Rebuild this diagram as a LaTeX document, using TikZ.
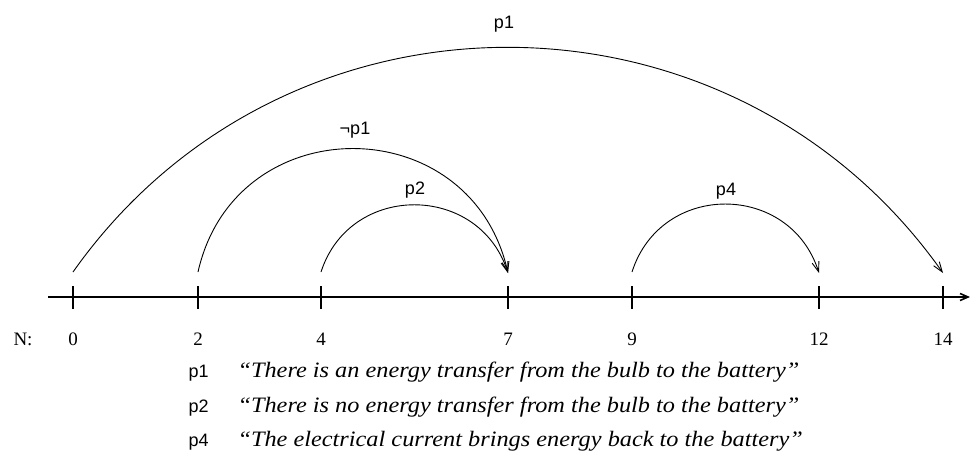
\documentclass[tikz,border=0pt]{standalone}
\usepackage{fontspec}
\usepackage{graphicx}
\setmainfont{Liberation Serif}
\setsansfont{Liberation Sans}
\usetikzlibrary{arrows.meta}
\newcommand{\legstretch}[1]{\scalebox{1.105}[1]{#1}}
\begin{document}
\begin{tikzpicture}[x=1pt,y=-1pt,
  axisline/.style={line width=1.6pt,-{Straight Barb[length=8pt,width=7pt]}},
  ticksty/.style={line width=1.6pt},
  arcline/.style={line width=0.9pt,-{Straight Barb[length=10pt,width=7pt]}},
  num/.style={font=\fontsize{19}{19}\selectfont,anchor=base},
  lab/.style={font=\sffamily\fontsize{18}{18}\selectfont,anchor=base},
  legtxt/.style={font=\itshape\fontsize{22}{22}\selectfont,anchor=base west},
]
\useasboundingbox (0,0) rectangle (970,455);
% axis
\coordinate (ax0) at (48,297);
\coordinate (ax1) at (970,297);
\draw[axisline] (ax0) -- (ax1);
\foreach \n/\x in {0/73,2/198,4/321,7/508,9/632,12/819,14/943}{
  \coordinate (tt\n) at (\x,286);
  \coordinate (tb\n) at (\x,309);
  \draw[ticksty] (tt\n) -- (tb\n);
  \node[num] (n\n) at (\x,345) {\n};
}
\node[num] (nN) at (23,345) {N:};
% arc end points
\coordinate (s0) at (73,272);
\coordinate (s2) at (198,272);
\coordinate (s4) at (321,272);
\coordinate (s9) at (632,272);
\coordinate (e7) at (508,273);
\coordinate (e12) at (819,273);
\coordinate (e14) at (943,273);
% arcs
\draw[arcline] (s0) .. controls +(212,-300) and +(-212,-300) .. (e14);
\draw[arcline] (s2) .. controls +(37,-165) and +(-37,-165) .. (e7);
\draw[arcline] (s4) .. controls +(29,-90) and +(-29,-90) .. (e7);
\draw[arcline] (s9) .. controls +(29,-91) and +(-29,-91) .. (e12);
% arc labels
\node[lab] (lp1) at (504,28) {p1};
\node[lab] (lnp1) at (355,134) {¬p1};
\node[lab] (lp2) at (415,194) {p2};
\node[lab] (lp4) at (726,195) {p4};
% legend
\node[lab,anchor=base west] (k1) at (185,377) {p1};
\node[lab,anchor=base west] (k2) at (185,412) {p2};
\node[lab,anchor=base west] (k4) at (185,446) {p4};
\node[legtxt] (q1) at (234,377) {\legstretch{“There is an energy transfer from the bulb to the battery”}};
\node[legtxt] (q2) at (234,412) {\legstretch{“There is no energy transfer from the bulb to the battery”}};
\node[legtxt] (q4) at (234,446) {\legstretch{“The electrical current brings energy back to the battery”}};
\end{tikzpicture}
\end{document}
